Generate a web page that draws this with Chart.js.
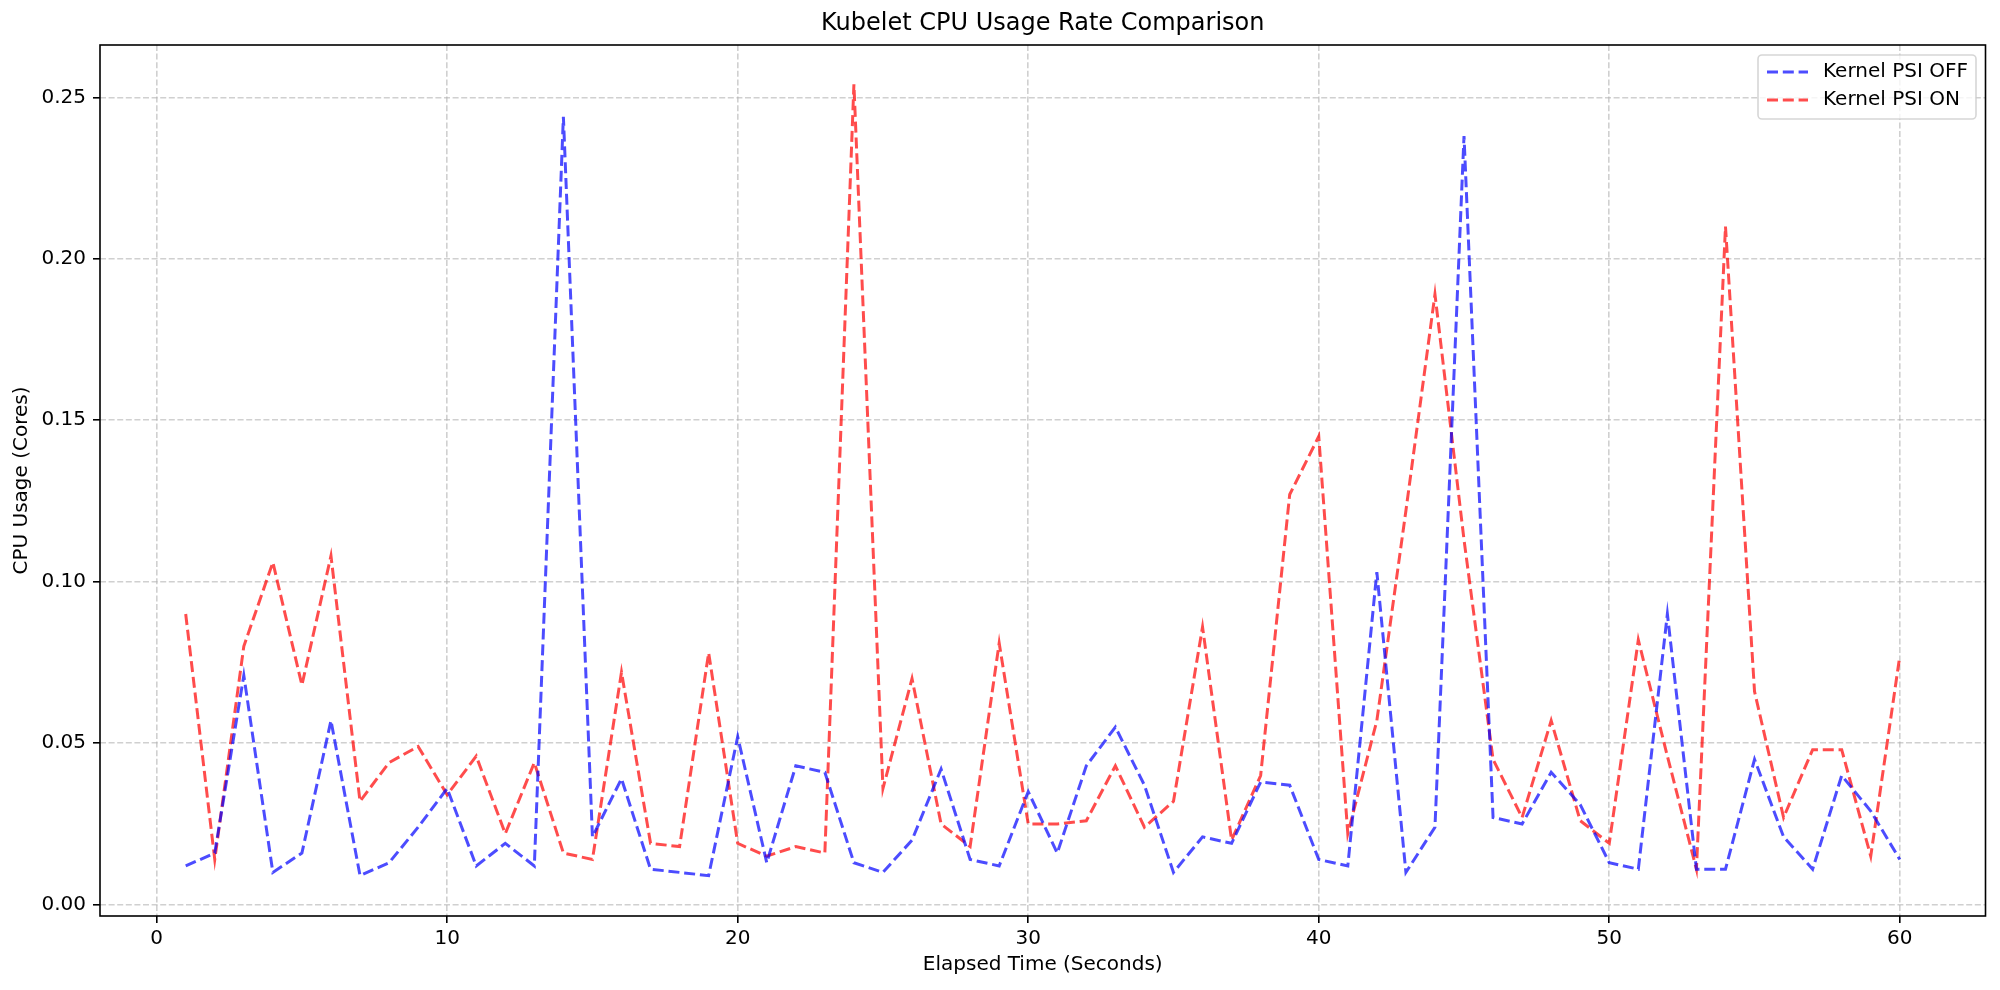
<!DOCTYPE html>
<html>
<head>
<meta charset="utf-8">
<title>Kubelet CPU Usage Rate Comparison</title>
<script src="https://cdn.jsdelivr.net/npm/chart.js@4.4.1/dist/chart.umd.min.js"></script>
<style>
  html, body { margin: 0; padding: 0; background: #fff; }
  #chartCanvas { display: block; }
</style>
</head>
<body>
<canvas id="chartCanvas" width="2000" height="990"></canvas>
<script>
    /********** DATA **********/
    const chartTitle = "Kubelet CPU Usage Rate Comparison";
    const xLabel = "Elapsed Time (Seconds)";
    const yLabel = "CPU Usage (Cores)";

    // elapsed seconds (x values)
    const seconds = [1, 2, 3, 4, 5, 6, 7, 8, 9, 10,
                     11, 12, 13, 14, 15, 16, 17, 18, 19, 20,
                     21, 22, 23, 24, 25, 26, 27, 28, 29, 30,
                     31, 32, 33, 34, 35, 36, 37, 38, 39, 40,
                     41, 42, 43, 44, 45, 46, 47, 48, 49, 50,
                     51, 52, 53, 54, 55, 56, 57, 58, 59, 60];

    // Kernel PSI OFF
    const psiOff = [0.012, 0.016, 0.071, 0.010, 0.016, 0.057, 0.009, 0.013, 0.024, 0.036,
                    0.012, 0.019, 0.012, 0.244, 0.021, 0.039, 0.011, 0.010, 0.009, 0.052,
                    0.013, 0.043, 0.041, 0.013, 0.010, 0.020, 0.042, 0.014, 0.012, 0.035,
                    0.016, 0.043, 0.055, 0.037, 0.010, 0.021, 0.019, 0.038, 0.037, 0.014,
                    0.012, 0.103, 0.010, 0.024, 0.238, 0.027, 0.025, 0.041, 0.031, 0.013,
                    0.011, 0.090, 0.011, 0.011, 0.045, 0.021, 0.011, 0.040, 0.029, 0.014];

    // Kernel PSI ON
    const psiOn = [0.090, 0.014, 0.080, 0.106, 0.068, 0.108, 0.032, 0.044, 0.049, 0.034,
                   0.046, 0.022, 0.044, 0.016, 0.014, 0.072, 0.019, 0.018, 0.078, 0.019,
                   0.015, 0.018, 0.016, 0.254, 0.036, 0.070, 0.025, 0.018, 0.081, 0.025,
                   0.025, 0.026, 0.043, 0.024, 0.032, 0.086, 0.020, 0.040, 0.127, 0.145,
                   0.022, 0.057, 0.122, 0.189, 0.113, 0.045, 0.027, 0.057, 0.026, 0.019,
                   0.082, 0.046, 0.011, 0.210, 0.066, 0.027, 0.048, 0.048, 0.015, 0.077];

    const xTicks = [0, 10, 20, 30, 40, 50, 60];
    const yTicks = [0, 0.05, 0.10, 0.15, 0.20, 0.25];

    /********** STYLE **********/
    const fontFamily = '"DejaVu Sans", "Liberation Sans", sans-serif';
    const tickFont = { family: fontFamily, size: 20, lineHeight: 1.2 };
    const lineDash = [11, 4.8];
    const gridStyle = {
      color: 'rgba(176,176,176,0.6)',
      lineWidth: 1.6,
      tickColor: '#000',
      tickLength: 7,
      tickWidth: 1.6,
      tickBorderDash: []
    };

    function toPoints(values) {
      return values.map((v, i) => ({ x: seconds[i], y: v }));
    }

    /********** FRAME, TITLE AND LEGEND **********/
    const framePlugin = {
      id: 'frame',
      afterDraw(chart) {
        const { ctx, chartArea: a } = chart;
        ctx.save();
        // spines
        ctx.setLineDash([]);
        ctx.strokeStyle = '#000';
        ctx.lineWidth = 1.6;
        ctx.strokeRect(a.left, a.top, a.right - a.left, a.bottom - a.top);

        // title, centred over the axes
        ctx.fillStyle = '#000';
        ctx.font = '24px ' + fontFamily;
        ctx.textAlign = 'center';
        ctx.textBaseline = 'middle';
        ctx.fillText(chartTitle, (a.left + a.right) / 2, 24);

        // legend box in the upper right corner
        const bx = 1758, by = 55, bw = 218, bh = 64;
        ctx.beginPath();
        ctx.roundRect(bx, by, bw, bh, 4);
        ctx.fillStyle = 'rgba(255,255,255,0.8)';
        ctx.fill();
        ctx.strokeStyle = 'rgba(204,204,204,0.8)';
        ctx.lineWidth = 1.6;
        ctx.stroke();

        ctx.font = '20px ' + fontFamily;
        ctx.textAlign = 'left';
        chart.data.datasets.forEach((ds, i) => {
          const y = 72 + i * 28;
          ctx.beginPath();
          ctx.setLineDash(lineDash);
          ctx.strokeStyle = ds.borderColor;
          ctx.lineWidth = ds.borderWidth;
          ctx.moveTo(1767, y);
          ctx.lineTo(1808, y);
          ctx.stroke();
          ctx.setLineDash([]);
          ctx.fillStyle = '#000';
          ctx.fillText(ds.label, 1823, y);
        });
        ctx.restore();
      }
    };

    /********** CHART **********/
    const ctx = document.getElementById("chartCanvas").getContext("2d");
    new Chart(ctx, {
      type: 'line',
      data: {
        datasets: [
          {
            label: 'Kernel PSI OFF',
            data: toPoints(psiOff),
            borderColor: 'rgba(0,0,255,0.7)',
            borderWidth: 3,
            borderDash: lineDash,
            pointRadius: 0,
            tension: 0,
            fill: false
          },
          {
            label: 'Kernel PSI ON',
            data: toPoints(psiOn),
            borderColor: 'rgba(255,0,0,0.7)',
            borderWidth: 3,
            borderDash: lineDash,
            pointRadius: 0,
            tension: 0,
            fill: false
          }
        ]
      },
      options: {
        responsive: false,
        animation: false,
        devicePixelRatio: 1,
        layout: { padding: { left: 0, right: 14.5, top: 45, bottom: 13 } },
        plugins: {
          legend: { display: false },
          title: { display: false },
          tooltip: { enabled: false }
        },
        scales: {
          x: {
            type: 'linear',
            min: -1.95,
            max: 62.95,
            afterBuildTicks: s => { s.ticks = xTicks.map(v => ({ value: v })); },
            afterFit: s => { s.height = 61; },
            ticks: { font: tickFont, color: '#000', padding: 4, maxRotation: 0, autoSkip: false },
            grid: gridStyle,
            border: { display: false, dash: [6, 2.6] },
            title: {
              display: true, text: xLabel, color: '#000',
              font: tickFont, padding: { top: 0, bottom: 0 }
            }
          },
          y: {
            type: 'linear',
            min: -0.0035,
            max: 0.2662,
            afterBuildTicks: s => { s.ticks = yTicks.map(v => ({ value: v })); },
            afterFit: s => { s.width = 100; },
            ticks: {
              font: tickFont, color: '#000', padding: 7, autoSkip: false,
              callback: v => Number(v).toFixed(2)
            },
            grid: gridStyle,
            border: { display: false, dash: [6, 2.6] },
            title: {
              display: true, text: yLabel, color: '#000',
              font: tickFont, padding: { top: 10, bottom: 0 }
            }
          }
        }
      },
      plugins: [framePlugin]
    });
</script>
</body>
</html>
